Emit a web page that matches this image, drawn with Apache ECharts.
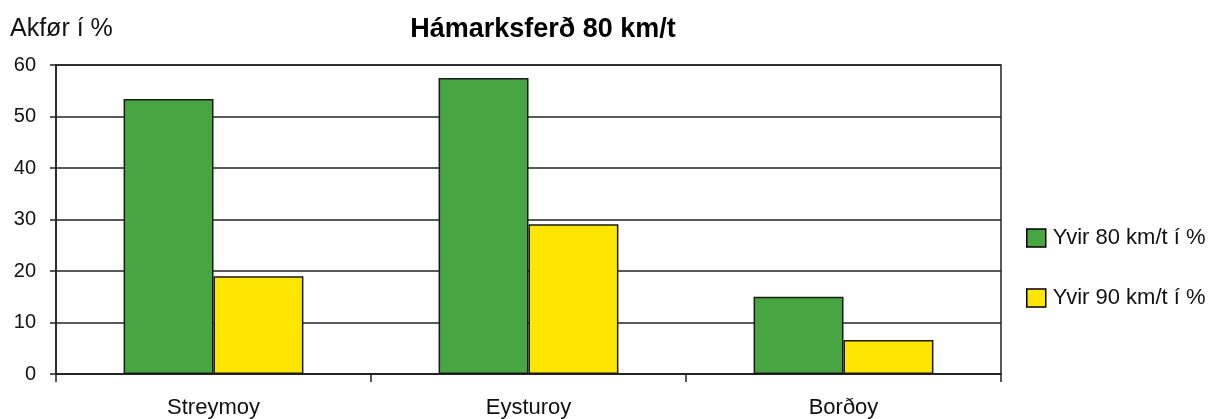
<!DOCTYPE html>
<html>
<head>
<meta charset="utf-8">
<script src="https://cdn.jsdelivr.net/npm/echarts@6/dist/echarts.min.js"></script>
<style>
html, body { margin: 0; padding: 0; background: #fff; }
#main { width: 1212px; height: 419px; }
</style>
</head>
<body>
<div id="main"></div>
<script>
var myChart = echarts.init(document.getElementById('main'));

var categories = ['Streymoy', 'Eysturoy', 'Borðoy'];
var over80 = [53.4, 57.5, 15.0];
var over90 = [19.0, 29.1, 6.6];
var seriesNames = ['Yvir 80 km/t í %', 'Yvir 90 km/t í %'];

var fontFam = '"Liberation Sans", Arial, sans-serif';

var option = {
    backgroundColor: '#fff',
    animation: false,
    title: [
        {
            text: 'Hámarksferð 80 km/t',
            left: 543,
            top: 16,
            padding: 0,
            textAlign: 'center',
            textStyle: { fontFamily: fontFam, fontSize: 27, fontWeight: 'bold', color: '#000' }
        },
        {
            text: 'Akfør í %',
            left: 10,
            top: 17,
            padding: 0,
            textStyle: { fontFamily: fontFam, fontSize: 25, fontWeight: 'normal', color: '#111' }
        }
    ],
    legend: {
        data: seriesNames,
        orient: 'vertical',
        left: 1026,
        top: 227,
        padding: 0,
        itemGap: 38,
        itemWidth: 19,
        itemHeight: 18,
        icon: 'rect',
        itemStyle: { borderColor: '#000', borderWidth: 1.5 },
        textStyle: { fontFamily: fontFam, fontSize: 22, color: '#111', padding: [0, 0, 0, 2] }
    },
    grid: {
        left: 56,
        right: 211,
        top: 65,
        bottom: 45,
        show: true,
        borderColor: '#222',
        borderWidth: 1.5
    },
    xAxis: {
        type: 'category',
        data: categories,
        axisLine: { lineStyle: { color: '#222', width: 1.5 } },
        axisTick: { show: true, length: 8, lineStyle: { color: '#222', width: 1.5 } },
        axisLabel: { fontFamily: fontFam, fontSize: 22, color: '#111', margin: 23 }
    },
    yAxis: {
        type: 'value',
        min: 0,
        max: 60,
        interval: 10,
        axisLine: { show: true, lineStyle: { color: '#222', width: 1.5 } },
        axisTick: { show: true, length: 6, lineStyle: { color: '#222', width: 1.5 } },
        splitLine: { lineStyle: { color: '#222', width: 1.5 } },
        axisLabel: { fontFamily: fontFam, fontSize: 20, color: '#111', margin: 20 }
    },
    series: [
        {
            name: seriesNames[0],
            type: 'bar',
            data: over80,
            barGap: '0%',
            barCategoryGap: '42.9%',
            itemStyle: { color: '#47A641', borderColor: '#1a1a1a', borderWidth: 1.5 }
        },
        {
            name: seriesNames[1],
            type: 'bar',
            data: over90,
            itemStyle: { color: '#FFE600', borderColor: '#1a1a1a', borderWidth: 1.5 }
        }
    ]
};

myChart.setOption(option);
</script>
</body>
</html>
